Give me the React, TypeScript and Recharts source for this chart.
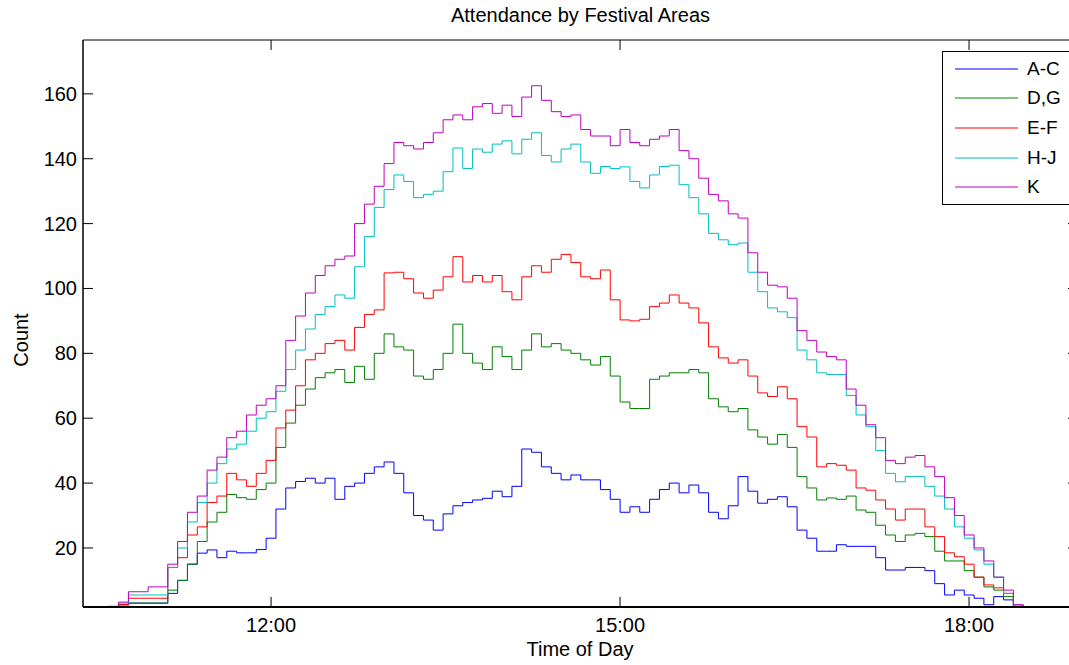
import { LineChart, Line, XAxis, YAxis, ReferenceArea } from 'recharts';

const FONT = '"Liberation Sans", Arial, Helvetica, sans-serif';

// readings start at about 10:36 and come every ~5 minutes (time in minutes after midnight)
const T0 = 636.3;
const DT = 5.0716;

const areaAC = [
  1.8, 2.5, 3, 3, 3, 3, 6, 10, 15, 18.4,
  19.4, 17, 19, 18.5, 18.5, 19.5, 23, 32, 38.5, 40.5,
  41.5, 40, 41.5, 35, 39, 40, 43, 45, 46.5, 43,
  37, 30, 28.6, 25.5, 30.5, 33, 34, 34.8, 35.3, 37.5,
  35.8, 39, 50.5, 49.5, 45, 43, 41, 42.5, 41, 41,
  38, 35, 31, 32.7, 31, 35, 38, 40, 37, 39.4,
  37, 31, 29, 33, 42, 37.5, 33.8, 35, 35.8, 32.7,
  25.5, 23, 19, 19, 21, 20.5, 20.5, 20.5, 17, 13.2,
  13.2, 14, 14, 13, 9, 5.5, 7, 5.5, 4.5, 2.5,
  5, 4, 1.8, 1.8,
];

const areaDG = [
  1.8, 2.5, 3, 3, 3, 3, 7, 10, 15, 22,
  28, 31, 36.5, 35.5, 35, 38, 40, 51, 58.5, 64,
  69, 72.5, 74, 75, 71, 76, 72, 80, 86, 82,
  81, 73, 72, 75, 80, 89, 80, 77, 75, 82,
  79, 75, 81, 86, 82, 83, 81, 80, 78, 76.4,
  79, 73, 65, 63, 63, 72, 73, 74, 74, 75,
  74, 66, 63.5, 62, 63, 56.4, 54.2, 52, 55, 51,
  42, 38.5, 34.8, 35.4, 35, 36, 31.7, 31, 27, 24,
  22, 24, 24.5, 23.5, 19, 16, 16, 13, 11, 8,
  7, 5, 2, 1.8,
];

const areaEF = [
  1.8, 2.5, 4.5, 4.5, 4.5, 4.5, 14, 17, 24, 26.5,
  34, 36, 43, 41, 39, 43, 47, 57, 62.5, 70,
  78, 80, 83, 84, 81, 88, 92, 93.4, 104.8, 105,
  103, 98.6, 97, 99.5, 103.6, 109.8, 102, 104, 102, 104,
  99, 96.5, 103.6, 107, 105, 109, 110.5, 108, 103.6, 103,
  105.7, 96.5, 90.3, 90, 90.5, 94.4, 95.5, 98, 95.5, 94,
  89.4, 82, 78.6, 77, 78, 73, 67.8, 66.7, 69.7, 66,
  57.4, 54.2, 45, 46, 45.5, 44, 38.5, 37.8, 34.8, 32,
  28.6, 32, 32, 26.5, 23.5, 18.5, 17.3, 15, 11, 8.6,
  7.7, 6, 2, 1.8,
];

const areaHJ = [
  2, 3, 5.5, 5.5, 5.5, 5.5, 14, 20, 28, 34,
  40, 46, 50.5, 52, 56, 60, 62, 68.3, 75, 81,
  87.5, 92, 94.4, 98, 97, 106.7, 116, 125, 130.5, 135,
  133, 128, 129, 130, 136, 143.3, 137, 143, 142, 144.5,
  145.5, 141.5, 146, 148, 141, 139, 143, 144.5, 139, 135.5,
  137.6, 137, 137.5, 133, 131, 135, 137.6, 138, 132, 128,
  123, 117, 115, 113.5, 114, 105, 99, 94, 92.8, 91,
  81, 78, 74, 73.5, 73.5, 67, 61, 57.4, 50, 43,
  40.4, 42, 42, 39, 36, 32, 26.5, 23, 19.4, 15,
  11, 6, 2.4, 1.8,
];

const areaK = [
  2, 3.3, 6.5, 6.5, 8, 8, 15, 22, 31, 36,
  44, 48, 54, 56, 61, 64, 66, 70, 84, 91.5,
  98.6, 104, 107, 109, 110, 120, 126, 131.5, 138.5, 145,
  144, 143, 145, 148, 152, 153.5, 152, 156, 157, 154,
  156.5, 153, 159, 162.5, 158, 154.5, 153, 153.5, 149, 147,
  147, 144, 149, 145, 144, 146, 147, 149, 142.5, 140,
  134, 129, 127, 123, 121.7, 111, 105, 101, 100.5, 97,
  87, 84, 80.4, 79, 78, 69, 64, 58, 54, 47,
  46, 48, 48.5, 45, 42, 35.5, 30, 24, 20, 16,
  11, 7, 2.5, 1.8,
];

const yTicks = [20, 40, 60, 80, 100, 120, 140, 160];
const xTicks = [720, 900, 1080];

const series = [
  { key: 'ac', name: 'A-C', color: '#0000ff', values: areaAC },
  { key: 'dg', name: 'D,G', color: '#008000', values: areaDG },
  { key: 'ef', name: 'E-F', color: '#ff0000', values: areaEF },
  { key: 'hj', name: 'H-J', color: '#00bfbf', values: areaHJ },
  { key: 'k', name: 'K', color: '#bf00bf', values: areaK },
];

const data = areaAC.map((_, i) => {
  const row: Record<string, number> = { t: T0 + DT * i };
  series.forEach((s) => {
    row[s.key] = s.values[i];
  });
  return row;
});

const X_DOMAIN = [623, 1136.2];
const Y_DOMAIN = [1.8, 176.6];

// plot box in page pixels
const LEFT = 83;
const RIGHT = 1078;
const TOP = 40;
const BOTTOM = 607;
const TICK = 10;

const fmtTime = (m: number) => `${Math.floor(m / 60)}:00`;

function XTick({ x, payload }: any) {
  return (
    <g>
      <line x1={x} x2={x} y1={BOTTOM} y2={BOTTOM - TICK} stroke="#000" />
      <line x1={x} x2={x} y1={TOP} y2={TOP + TICK} stroke="#000" />
      <text x={x} y={632} textAnchor="middle" fontSize={20} fill="#000" fontFamily={FONT}>
        {fmtTime(payload.value)}
      </text>
    </g>
  );
}

function YTick({ y, payload }: any) {
  return (
    <g>
      <line x1={LEFT} x2={LEFT + TICK} y1={y} y2={y} stroke="#000" />
      <line x1={RIGHT - TICK} x2={RIGHT} y1={y} y2={y} stroke="#000" />
      <text x={77} y={y} dy="0.35em" textAnchor="end" fontSize={20} fill="#000" fontFamily={FONT}>
        {payload.value}
      </text>
    </g>
  );
}

function LegendBox() {
  return (
    <div
      style={{
        position: 'absolute',
        left: 942,
        top: 51,
        width: 130,
        height: 152,
        border: '1px solid #000',
        background: '#fff',
      }}
    >
      {series.map((s, i) => (
        <div
          key={s.key}
          style={{
            position: 'absolute',
            left: 0,
            top: 2 + i * 29.6,
            height: 29.6,
            display: 'flex',
            alignItems: 'center',
          }}
        >
          <svg width={84} height={4}>
            <line x1={12} x2={75} y1={2} y2={2} stroke={s.color} strokeWidth={1} />
          </svg>
          <span style={{ fontSize: 19, lineHeight: '20px' }}>{s.name}</span>
        </div>
      ))}
    </div>
  );
}

export default function App() {
  return (
    <div
      style={{
        position: 'absolute',
        left: 0,
        top: 0,
        width: 1069,
        height: 665,
        overflow: 'hidden',
        background: '#fff',
        fontFamily: FONT,
        color: '#000',
      }}
    >
      <LineChart width={1100} height={665} data={data} margin={{ top: TOP, right: 1100 - RIGHT, bottom: 0, left: 0 }}>
        <XAxis
          type="number"
          dataKey="t"
          domain={X_DOMAIN}
          ticks={xTicks}
          height={665 - BOTTOM}
          axisLine={{ stroke: '#000', strokeWidth: 2 }}
          tickLine={false}
          tick={<XTick />}
          allowDataOverflow
        />
        <YAxis
          type="number"
          domain={Y_DOMAIN}
          ticks={yTicks}
          width={LEFT}
          axisLine={{ stroke: '#000' }}
          tickLine={false}
          tick={<YTick />}
          allowDataOverflow
        />
        <ReferenceArea
          x1={X_DOMAIN[0]}
          x2={X_DOMAIN[1]}
          y1={Y_DOMAIN[0]}
          y2={Y_DOMAIN[1]}
          fill="none"
          stroke="#000"
          strokeWidth={1}
        />
        {series.map((s) => (
          <Line
            key={s.key}
            type="stepAfter"
            dataKey={s.key}
            name={s.name}
            stroke={s.color}
            strokeWidth={1}
            dot={false}
            activeDot={false}
            isAnimationActive={false}
          />
        ))}
      </LineChart>

      <div style={{ position: 'absolute', left: 0, width: 1161, top: 3, textAlign: 'center', fontSize: 20, lineHeight: '24px' }}>
        Attendance by Festival Areas
      </div>
      <div style={{ position: 'absolute', left: 0, width: 1160, top: 637, textAlign: 'center', fontSize: 20, lineHeight: '24px' }}>
        Time of Day
      </div>
      <div
        style={{
          position: 'absolute',
          left: 21,
          top: 340,
          transform: 'translate(-50%, -50%) rotate(-90deg)',
          fontSize: 20,
          lineHeight: '24px',
          whiteSpace: 'nowrap',
        }}
      >
        Count
      </div>
      <LegendBox />
    </div>
  );
}
